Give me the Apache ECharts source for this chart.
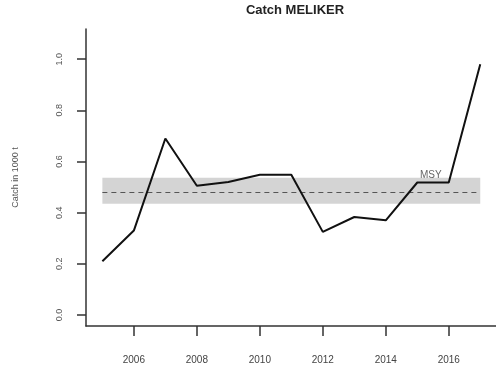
<!DOCTYPE html>
<html>
<head>
<meta charset="utf-8">
<script src="https://cdn.jsdelivr.net/npm/echarts@6/dist/echarts.min.js"></script>
<style>
  html, body { margin: 0; padding: 0; background: #fff; }
  #chart { width: 496px; height: 366px; }
</style>
</head>
<body>
<div id="chart"></div>
<script>
const years = [2005, 2006, 2007, 2008, 2009, 2010, 2011, 2012, 2013, 2014, 2015, 2016, 2017]
const catchValues = [0.21, 0.33, 0.69, 0.505, 0.52, 0.548, 0.548, 0.325, 0.383, 0.37, 0.518, 0.518, 0.98]
const msyLower = 0.435
const msyMid = 0.478
const msyUpper = 0.537
const xTicks = [2006, 2008, 2010, 2012, 2014, 2016]
const yTicks = [0, 0.2, 0.4, 0.6, 0.8, 1.0]

const chart = echarts.init(document.getElementById('chart'))
const font = 'Liberation Sans, Arial, sans-serif'

chart.setOption({
  animation: false,
  title: {
    text: 'Catch MELIKER',
    left: 290,
    textAlign: 'center',
    top: -1,
    textStyle: { fontFamily: font, fontSize: 13, fontWeight: 'bold', color: '#222' },
  },
  grid: { left: 86, right: 0, top: 29, bottom: 40 },
  xAxis: {
    type: 'value',
    min: 2004.48,
    max: 2017.5,
    splitLine: { show: false },
    axisLine: { onZero: false, lineStyle: { color: '#333', width: 1.5 } },
    axisTick: { customValues: xTicks, length: 10, lineStyle: { color: '#333', width: 1.5 } },
    axisLabel: {
      customValues: xTicks,
      margin: 29,
      fontFamily: font,
      fontSize: 10,
      color: '#444',
      formatter: v => String(v),
    },
  },
  yAxis: {
    type: 'value',
    min: -0.043,
    max: 1.118,
    name: 'Catch in 1000 t',
    nameLocation: 'middle',
    nameGap: 66,
    nameTextStyle: { fontFamily: font, fontSize: 9, color: '#555' },
    splitLine: { show: false },
    axisLine: { show: true, lineStyle: { color: '#333', width: 1.5 } },
    axisTick: { show: true, customValues: yTicks, length: 9, lineStyle: { color: '#333', width: 1.5 } },
    axisLabel: {
      customValues: yTicks,
      rotate: 90,
      margin: 22,
      fontFamily: font,
      fontSize: 9,
      color: '#555',
      formatter: v => v.toFixed(1),
    },
  },
  series: [
    {
      type: 'line',
      data: years.map((y, i) => [y, catchValues[i]]),
      symbol: 'none',
      z: 5,
      lineStyle: { color: '#111', width: 2 },
      markArea: {
        silent: true,
        itemStyle: { color: '#d4d4d4' },
        data: [[{ coord: [years[0], msyLower] }, { coord: [years[years.length - 1], msyUpper] }]],
      },
      markLine: {
        silent: true,
        symbol: 'none',
        label: { show: false },
        lineStyle: { color: '#555', type: [5, 4], width: 1 },
        data: [[{ coord: [years[0], msyMid] }, { coord: [years[years.length - 1], msyMid] }]],
      },
      markPoint: {
        silent: true,
        symbol: 'rect',
        symbolSize: 0,
        label: {
          show: true,
          formatter: 'MSY',
          fontFamily: font,
          fontSize: 10,
          color: '#666',
        },
        data: [{ coord: [2015.43, 0.545] }],
      },
    },
  ],
})
</script>
</body>
</html>
